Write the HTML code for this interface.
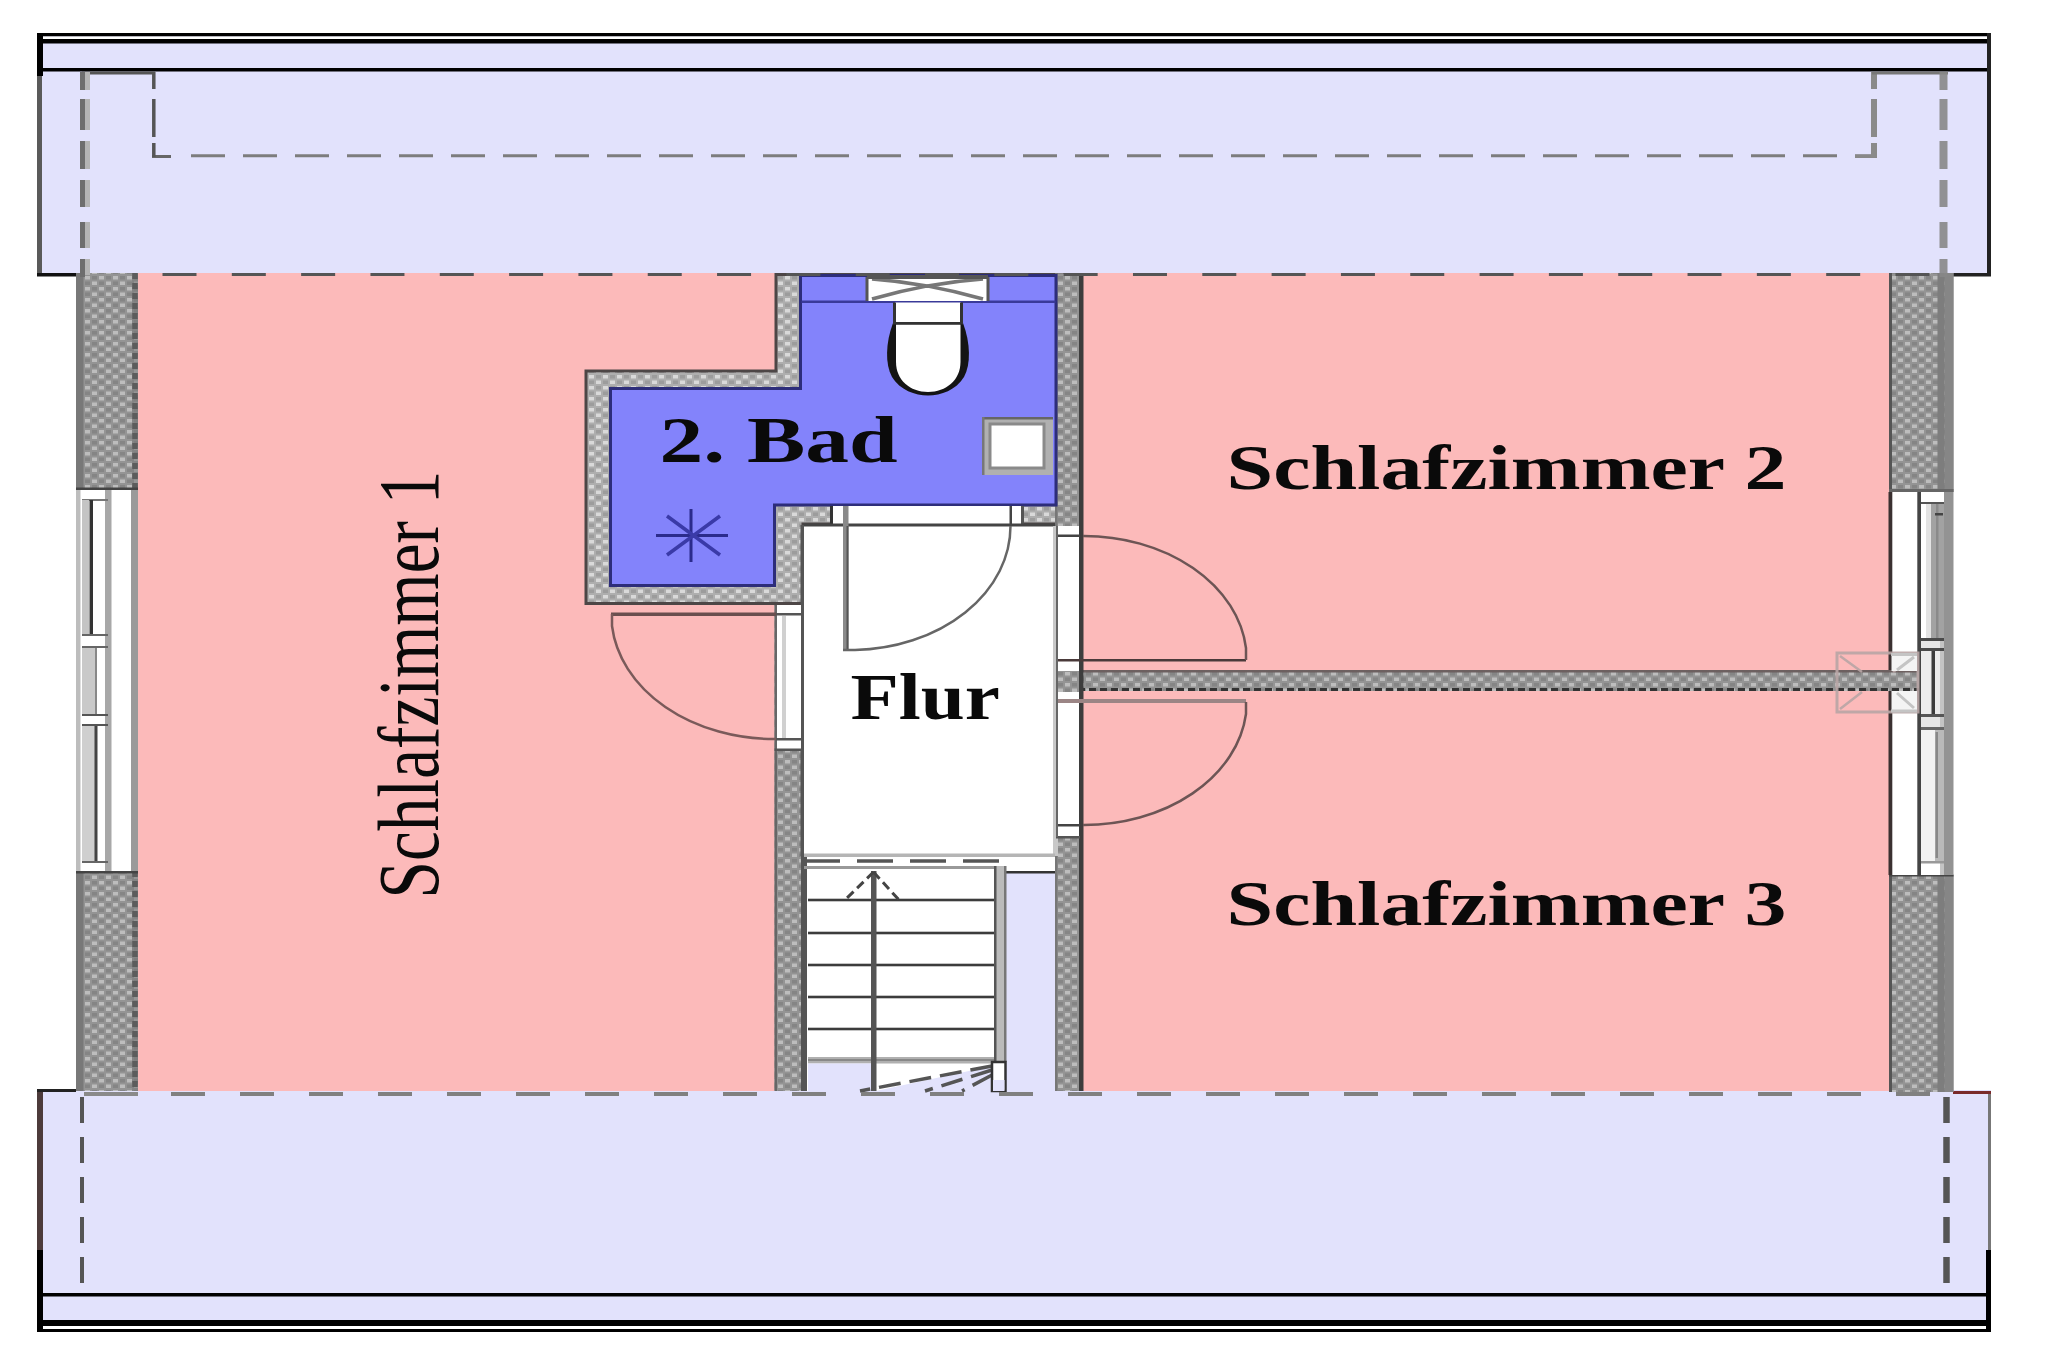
<!DOCTYPE html>
<html lang="de"><head><meta charset="utf-8"><title>Grundriss Dachgeschoss</title>
<style>
html,body{margin:0;padding:0;background:#fff;}
body{width:2048px;height:1365px;overflow:hidden;}
svg{display:block;}
svg text{font-family:"Liberation Serif",serif;fill:#0a0a0a;}
</style></head><body>
<svg width="2048" height="1365" viewBox="0 0 2048 1365" shape-rendering="auto">
<defs>
<pattern id="wall" width="14" height="11" patternUnits="userSpaceOnUse">
<rect width="14" height="11" fill="#949494"/>
<rect x="1" y="1" width="5" height="3.5" fill="#bdbdbd"/>
<rect x="8" y="6.5" width="5" height="3.5" fill="#bdbdbd"/>
<rect x="8" y="1" width="5" height="3.5" fill="#858585"/>
<rect x="1" y="6.5" width="5" height="3.5" fill="#858585"/>
</pattern>
<pattern id="wall2" width="14" height="11" patternUnits="userSpaceOnUse">
<rect width="14" height="11" fill="#aeaeae"/>
<rect x="1" y="1" width="5" height="3.5" fill="#d9d9d9"/>
<rect x="8" y="6.5" width="5" height="3.5" fill="#d9d9d9"/>
<rect x="8" y="1" width="5" height="3.5" fill="#9c9c9c"/>
<rect x="1" y="6.5" width="5" height="3.5" fill="#9c9c9c"/>
</pattern>
</defs>
<rect x="37" y="33" width="1954" height="240.5" fill="#e2e2fc" />
<rect x="37" y="33" width="1954" height="3.5" fill="#000" />
<rect x="37" y="36.5" width="1954" height="2.5" fill="#fff" />
<rect x="37" y="39" width="1954" height="4.5" fill="#000" />
<rect x="37" y="68" width="1954" height="3.5" fill="#000" />
<rect x="37" y="33" width="6" height="43" fill="#000" />
<rect x="37" y="76" width="5" height="200" fill="#5a5a5a" />
<rect x="37" y="273" width="39" height="3.5" fill="#111" />
<rect x="1987" y="33" width="4" height="243" fill="#222" />
<rect x="1953" y="273" width="38" height="3.5" fill="#222" />
<rect x="37" y="1090" width="1954" height="242" fill="#e2e2fc" />
<rect x="37" y="1293" width="1954" height="3.5" fill="#000" />
<rect x="37" y="1320" width="1954" height="6" fill="#000" />
<rect x="37" y="1326" width="1954" height="3" fill="#fff" />
<rect x="37" y="1329" width="1954" height="3" fill="#000" />
<rect x="37" y="1090" width="6" height="160" fill="#4d3b3b" />
<rect x="37" y="1250" width="6" height="82" fill="#000" />
<rect x="37" y="1089" width="39" height="3" fill="#222" />
<rect x="1988" y="1092" width="3" height="158" fill="#777" />
<rect x="1986" y="1250" width="5" height="82" fill="#000" />
<rect x="1953" y="1091" width="38" height="3" fill="#7a2a2a" />
<rect x="138" y="273" width="638" height="818" fill="#fcbaba" />
<rect x="1082" y="273" width="808" height="818" fill="#fcbaba" />
<rect x="76" y="273" width="62" height="217" fill="url(#wall)" />
<rect x="76" y="273" width="7.5" height="217" fill="#787878" />
<line x1="135" y1="273" x2="135" y2="490" stroke="#3c3c3c" stroke-width="5.5" stroke-dasharray="6 4"/>
<rect x="132" y="273" width="6" height="217" fill="#777" opacity="0.55"/>
<rect x="76" y="871" width="62" height="220" fill="url(#wall)" />
<rect x="76" y="871" width="7.5" height="220" fill="#787878" />
<line x1="135" y1="871" x2="135" y2="1091" stroke="#3c3c3c" stroke-width="5.5" stroke-dasharray="6 4"/>
<rect x="132" y="871" width="6" height="220" fill="#777" opacity="0.55"/>
<rect x="1889" y="273" width="64.5" height="219" fill="url(#wall)" />
<rect x="1889" y="273" width="3" height="219" fill="#555" />
<rect x="1944.5" y="273" width="9.0" height="219" fill="#868686" />
<rect x="1937.5" y="273" width="7.0" height="219" fill="#7d7d7d" />
<rect x="1889" y="875" width="64.5" height="217" fill="url(#wall)" />
<rect x="1889" y="875" width="3" height="217" fill="#555" />
<rect x="1944.5" y="875" width="9.0" height="217" fill="#868686" />
<rect x="1937.5" y="875" width="7.0" height="217" fill="#7d7d7d" />
<rect x="76" y="487.5" width="62" height="2.5" fill="#444" />
<rect x="76" y="871" width="62" height="2.5" fill="#444" />
<rect x="1889" y="489" width="64.5" height="3" fill="#666" />
<rect x="1889" y="874" width="64.5" height="2.5" fill="#444" />
<rect x="76" y="490" width="62" height="381" fill="#fff" />
<rect x="76" y="490" width="4.5" height="381" fill="#bdbdbd" />
<rect x="131" y="490" width="7" height="381" fill="#9a9a9a" />
<rect x="105" y="490" width="6.5" height="381" fill="#a8a8a8" />
<rect x="82" y="499" width="26" height="2" fill="#777" />
<rect x="82" y="500" width="7" height="135" fill="#c4c4c4" />
<rect x="89.5" y="500" width="3.5" height="136" fill="#333" />
<rect x="82" y="634" width="26" height="2" fill="#666" />
<rect x="82" y="646" width="26" height="2" fill="#666" />
<rect x="82" y="648" width="14" height="66" fill="#c9c9c9" />
<rect x="95" y="648" width="2" height="66" fill="#888" />
<rect x="82" y="714" width="26" height="2" fill="#555" />
<rect x="82" y="724" width="26" height="2" fill="#555" />
<rect x="82" y="726" width="13" height="136" fill="#cfcfcf" />
<rect x="94.5" y="726" width="3.0" height="136" fill="#444" />
<rect x="82" y="861" width="26" height="2" fill="#666" />
<rect x="1889" y="492" width="64.5" height="383" fill="#fff" />
<rect x="1888.5" y="492" width="3.8" height="383" fill="#3a3030" />
<rect x="1917.3" y="492" width="3.7" height="383" fill="#444" />
<rect x="1944" y="492" width="9.5" height="383" fill="#939393" />
<rect x="1940" y="503" width="4" height="372" fill="#c4c4c4" />
<rect x="1921" y="502" width="23" height="2" fill="#555" />
<rect x="1931" y="504" width="13" height="136" fill="#a2a2a2" />
<rect x="1926" y="504" width="5" height="136" fill="#e3e3e3" />
<rect x="1936" y="504" width="2.5" height="136" fill="#8a8a8a" />
<rect x="1935" y="513" width="8" height="2.5" fill="#444" />
<rect x="1921" y="638" width="23" height="3" fill="#4a4a4a" />
<rect x="1921" y="648" width="23" height="3" fill="#4a4a4a" />
<rect x="1921" y="651" width="19" height="64" fill="#ececec" />
<rect x="1931.5" y="651" width="3.5" height="64" fill="#3c3c3c" />
<rect x="1921" y="714" width="23" height="3" fill="#555" />
<rect x="1921" y="727" width="23" height="3" fill="#666" />
<rect x="1921" y="717" width="19" height="10" fill="#e6e6e6" />
<rect x="1921" y="641" width="19" height="7" fill="#e6e6e6" />
<rect x="1921" y="730" width="14" height="132" fill="#f2f2f2" />
<rect x="1935" y="730" width="9" height="132" fill="#b9b9b9" />
<rect x="1935.5" y="732" width="2.5" height="126" fill="#888" />
<rect x="1921" y="861" width="23" height="2.5" fill="#999" />
<rect x="1056" y="671" width="863" height="20" fill="url(#wall)" />
<rect x="1056" y="670" width="863" height="2.5" fill="#6d6060" />
<line x1="1056" y1="689.5" x2="1919" y2="689.5" stroke="#333" stroke-width="3" stroke-dasharray="7 4"/>
<g stroke="#b9a6a6" stroke-width="3" fill="none" opacity="0.9"><rect x="1837" y="653" width="81" height="59"/><path d="M1840 656 L1862 672 M1840 709 L1862 692 M1916 656 L1893 672 M1916 709 L1893 692" stroke-width="2.5"/></g>
<rect x="1891.5" y="653" width="25.5" height="18" fill="#f4f4f4" />
<rect x="1891.5" y="691" width="25.5" height="21" fill="#f4f4f4" />
<g stroke="#c4c4c4" stroke-width="3" fill="none"><path d="M1891 654.5 H1917 M1891 711 H1917 M1914 657 L1897 670 M1914 708 L1897 693"/></g>
<path d="M586 371 H776 V274.5 H1081 V524 H803 V603.5 H586 Z" fill="url(#wall2)" stroke="#4d4646" stroke-width="3"/>
<rect x="774.5" y="605" width="29.5" height="486" fill="url(#wall)" />
<rect x="1055" y="273.5" width="28" height="817.5" fill="url(#wall)" />
<rect x="774.5" y="605" width="2.5" height="486" fill="#666" />
<rect x="1079" y="273.5" width="4.5" height="817.5" fill="#3d3d3d" />
<rect x="1055" y="273.5" width="2.5" height="817.5" fill="#777" />
<rect x="801" y="750" width="6" height="341" fill="#555" />
<rect x="803" y="525" width="252" height="331" fill="#fff" />
<path d="M610.5 388.5 H800.5 V275.5 H1056 V505 H774.5 V585.5 H610.5 Z" fill="#8383fb" stroke="#2d2d7a" stroke-width="3"/>
<rect x="801.5" y="300.5" width="254.0" height="2.5" fill="#3a3a99" />
<rect x="867" y="276" width="121" height="25" fill="#fff" />
<g stroke="#555" stroke-width="3" fill="none"><path d="M867 277 V301 M988 277 V301"/><path d="M872 279 Q927 283 983 299 M983 279 Q927 283 872 299" stroke="#777" stroke-width="3.5"/></g>
<rect x="867" y="275" width="121" height="4" fill="#555" />
<rect x="895" y="302.5" width="66" height="20.5" fill="#fff" />
<rect x="893" y="302.5" width="3" height="20.5" fill="#333" />
<rect x="960" y="302.5" width="3" height="20.5" fill="#333" />
<path d="M893 323 C885.5 343 885 364 892 377 C900 390 915 395.5 928 395.5 C941 395.5 956 390 964 377 C971 364 970.5 343 963 323 Z" fill="#141414"/>
<path d="M896 324.5 V362 C896 380 910 392 928 392 C946 392 960.5 380 960.5 362 V324.5 Z" fill="#fff"/>
<rect x="893" y="322" width="70" height="2.5" fill="#333" />
<rect x="982" y="417" width="71" height="58" fill="#b0b0b0" />
<rect x="982" y="417" width="71" height="2.5" fill="#666" />
<rect x="982" y="417" width="2.5" height="58" fill="#777" />
<rect x="990" y="424" width="54" height="44" fill="#fff" />
<rect x="990" y="424" width="54" height="44" fill="none" stroke="#8a8a8a" stroke-width="3"/>
<g stroke="#2b2b8c" stroke-width="3" fill="none"><path d="M656 535.5 H728 M691 509 V562"/><path d="M667 516 L720 555 M720 516 L667 555" stroke-width="3.5" stroke="#3a3aa8"/></g>
<rect x="831" y="506" width="191" height="19" fill="#fff" />
<rect x="830" y="506" width="3" height="19" fill="#333" />
<rect x="1021" y="506" width="3" height="19" fill="#555" />
<rect x="1009.5" y="506" width="2.5" height="19" fill="#444" />
<rect x="803" y="523.5" width="252" height="3.0" fill="#444" />
<rect x="843" y="506" width="5.5" height="144" fill="#8a8a8a" />
<rect x="846.5" y="526" width="2.0" height="124" fill="#555" />
<path d="M843 650 H855 A160 124 0 0 0 1010.5 526" fill="none" stroke="#666" stroke-width="2.5"/>
<rect x="800.5" y="525" width="3.5" height="331" fill="#555" />
<rect x="777" y="605" width="24" height="145" fill="#fff" />
<rect x="776" y="613" width="26" height="2.5" fill="#555" />
<rect x="776" y="738" width="26" height="2.5" fill="#555" />
<rect x="782" y="616" width="4" height="122" fill="#d0d0d0" />
<rect x="611" y="612.5" width="165" height="3.5" fill="#6a4f4f" />
<path d="M612 614 V626 A163 125 0 0 0 776 739" fill="none" stroke="#7a5a5a" stroke-width="2.5"/>
<rect x="774.5" y="748.5" width="29.5" height="2.5" fill="#555" />
<rect x="1057.5" y="526" width="21.5" height="145" fill="#fff" />
<rect x="1057.5" y="692" width="21.5" height="145" fill="#fff" />
<rect x="1053" y="526" width="5" height="330" fill="#c8c8c8" />
<rect x="1056" y="534.5" width="24" height="2.5" fill="#444" />
<rect x="1056" y="659" width="190" height="2.5" fill="#4a3a3a" />
<path d="M1083 536 A163 124 0 0 1 1246 648 V660" fill="none" stroke="#6d5555" stroke-width="2.5"/>
<rect x="1056" y="699" width="190" height="4" fill="#9b8585" />
<path d="M1083 825 A163 124 0 0 0 1246 714 V702" fill="none" stroke="#6d5555" stroke-width="2.5"/>
<rect x="1056" y="824" width="24" height="2.5" fill="#444" />
<rect x="1056" y="836" width="24" height="2.5" fill="#555" />
<rect x="1056" y="526" width="2" height="311" fill="#666" />
<rect x="807" y="856" width="248" height="235" fill="#fff" />
<rect x="804" y="853.5" width="251" height="3.5" fill="#b5b5b5" />
<line x1="804" y1="861" x2="1006" y2="861" stroke="#555" stroke-width="3.5" stroke-dasharray="36 17"/>
<rect x="804" y="866" width="202" height="3" fill="#999" />
<rect x="1006" y="872" width="49" height="219" fill="#e2e2fc" />
<rect x="1006" y="871" width="49" height="2.5" fill="#333" />
<rect x="994" y="866" width="12" height="196" fill="#bbb" />
<rect x="994" y="866" width="2.5" height="196" fill="#555" />
<rect x="1004" y="866" width="2.5" height="196" fill="#777" />
<rect x="808" y="898.7" width="186" height="2.6" fill="#3c3c3c" />
<rect x="808" y="931.7" width="186" height="2.6" fill="#3c3c3c" />
<rect x="808" y="963.7" width="186" height="2.6" fill="#3c3c3c" />
<rect x="808" y="995.7" width="186" height="2.6" fill="#3c3c3c" />
<rect x="808" y="1027.7" width="186" height="2.6" fill="#3c3c3c" />
<rect x="808" y="1057" width="186" height="6.5" fill="#b0b0b0" />
<rect x="808" y="1059" width="186" height="2" fill="#888" />
<rect x="808" y="1063.5" width="63" height="27.5" fill="#e2e2fc" />
<path d="M876 1091 L992 1066 V1091 Z" fill="#e2e2fc"/>
<g stroke="#555" stroke-width="3.5" fill="none" stroke-dasharray="22 9"><path d="M992 1066 L860 1091 M992 1070 L925 1091 M992 1075 L962 1091"/></g>
<rect x="871" y="871" width="5.5" height="220" fill="#555" />
<path d="M873.5 872 L845 900 M873.5 872 L899 900" stroke="#444" stroke-width="3" stroke-dasharray="9 5" fill="none"/>
<rect x="992" y="1062" width="13.5" height="29" fill="#fff" stroke="#333" stroke-width="2.5"/>
<rect x="993" y="1080" width="11.5" height="11" fill="#e2e2fc" />
<line x1="162.5" y1="274.6" x2="1960" y2="274.6" stroke="#555" stroke-width="3" stroke-dasharray="34 35.32"/>
<rect x="76" y="274.5" width="1877" height="3.5" fill="#e2e2fc" opacity="0"/>
<line x1="171" y1="1094" x2="1960" y2="1094" stroke="#808080" stroke-width="4.2" stroke-dasharray="34 35"/>
<rect x="84" y="1092" width="54" height="4" fill="#8a8a8a" />
<line x1="191" y1="155.8" x2="1873" y2="155.8" stroke="#7d7d7d" stroke-width="3" stroke-dasharray="34 18"/>
<rect x="152" y="155" width="19" height="3" fill="#666" />
<rect x="1855" y="155" width="22" height="3" fill="#888" />
<line x1="153.8" y1="72" x2="153.8" y2="157" stroke="#555" stroke-width="3.5" stroke-dasharray="17 10 38 6 16 100"/>
<line x1="1874" y1="72" x2="1874" y2="157" stroke="#8a8a8a" stroke-width="6" stroke-dasharray="17 10 38 6 16 100"/>
<rect x="82" y="71.5" width="73" height="3.0" fill="#555" />
<rect x="1872" y="71.5" width="76" height="3.0" fill="#777" />
<line x1="82.5" y1="72" x2="82.5" y2="1091" stroke="#6e6e6e" stroke-width="5" stroke-dasharray="18 9 31 11 28 11 27 15 26 11 18 2000"/>
<line x1="87.5" y1="72" x2="87.5" y2="275" stroke="#b4b4b4" stroke-width="5" stroke-dasharray="18 9 31 11 28 11 27 15 26 11 18 2000"/>
<line x1="1943.5" y1="72" x2="1943.5" y2="1091" stroke="#888" stroke-width="8" stroke-dasharray="18 9 31 11 28 11 27 15 26 11 18 2000" opacity="0.9"/>
<line x1="82" y1="1097" x2="82" y2="1290" stroke="#555" stroke-width="4" stroke-dasharray="26 14"/>
<line x1="1946.5" y1="1097" x2="1946.5" y2="1290" stroke="#555" stroke-width="6.5" stroke-dasharray="26 14"/>
<text transform="translate(659.5 462) scale(1.345 1)" font-size="65" font-weight="bold" >2. Bad</text>
<text transform="translate(1226.5 488.5) scale(1.332 1)" font-size="63" font-weight="bold" >Schlafzimmer 2</text>
<text transform="translate(1226.5 925.2) scale(1.332 1)" font-size="63" font-weight="bold" >Schlafzimmer 3</text>
<text transform="translate(850.5 719) scale(1.218 1)" font-size="65" font-weight="bold" >Flur</text>
<text transform="translate(438.2 898.5) rotate(-90) scale(1 1.275)" font-size="67.3" font-weight="normal">Schlafzimmer 1</text>
</svg>
</body></html>
